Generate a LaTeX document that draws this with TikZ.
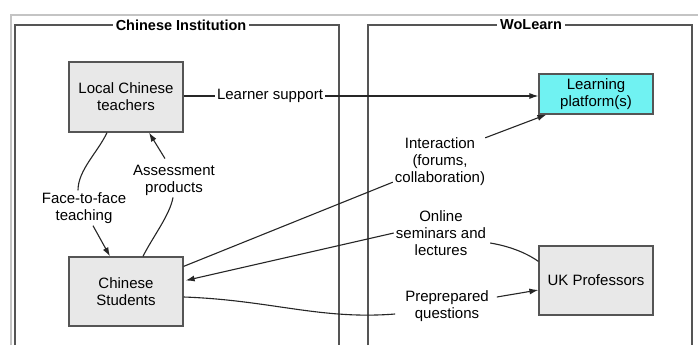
\documentclass[tikz,border=0pt]{standalone}
\usepackage{fontspec}
\setmainfont{Liberation Sans}
\usetikzlibrary{arrows.meta,calc}
\definecolor{cyanfill}{HTML}{70F2F2}
\definecolor{boxfill}{HTML}{E8E8E8}
\definecolor{framecol}{HTML}{555555}
\definecolor{outercol}{HTML}{C4C4C4}
\begin{document}
\begin{tikzpicture}[x=1pt,y=-1pt,
  txt/.style={font=\fontsize{15}{17}\selectfont},
  box/.style={txt,draw=framecol,fill=boxfill,line width=1.2pt,minimum width=114pt,minimum height=70pt,align=center,inner sep=0pt},
  lbl/.style={txt,align=center,inner sep=2pt},
  conn/.style={line width=1.1pt,black!85},
  arr/.style={conn,-{Latex[length=9pt,width=6pt]}},
  frame/.style={draw=framecol,line width=1.3pt},
  ttl/.style={fill=white,font=\fontsize{14.5}{17}\selectfont\bfseries,inner sep=3pt}]
\fill[white] (0,0) rectangle (698,345);
\useasboundingbox (0,0) rectangle (698,345);
% outer light frame
\draw[outercol,line width=1.6pt] (11,345) -- (11,15) -- (698,15);
% group frames
\draw[frame] (15,345) -- (15,25) -- (339,25) -- (339,345);
\draw[frame] (368,345) -- (368,25) -- (692,25) -- (692,345);
\draw[framecol,line width=2.6pt] (692,25) -- (692,345);
\node[ttl] (tci) at (181,25) {Chinese Institution};
\node[ttl] (twl) at (531,25) {WoLearn};
% boxes
\node[box] (lt) at (126,97) {Local Chinese\\teachers};
\node[box,minimum height=69pt] (cs) at (126,291.5) {Chinese\\Students};
\node[box,fill=cyanfill,minimum height=40pt] (lp) at (596,94) {Learning\\platform(s)};
\node[box,minimum height=69pt] (uk) at (596,280.5) {UK Professors};
% labels
\node[lbl] (ls) at (270,96) {Learner support};
\node[lbl] (ftf) at (84,208) {Face-to-face\\teaching};
\node[lbl] (asp) at (174,180) {Assessment\\products};
\node[lbl] (int) at (440,162) {Interaction\\(forums,\\collaboration)};
\node[lbl] (onl) at (441,233) {Online\\seminars and\\lectures};
\node[lbl] (ppq) at (447,306) {Preprepared\\questions};
% connectors
\draw[conn] (lt.east |- ls.west) -- (ls.west);
\draw[arr] (ls.east) -- (lp.west |- ls.east);
\draw[conn] ($(lt.south)+(-19,0)$) .. controls (98,152) and (78,170) .. ($(ftf.north)+(-6,0)$);
\draw[arr] ($(ftf.south)+(9,0)$) -- ($(cs.north)+(-16,0)$);
\draw[conn] ($(cs.north)+(17,0)$) .. controls (152,238) and (170,215) .. ($(asp.south)+(-1,0)$);
\draw[arr] ($(asp.north)+(-9,-4)$) -- ($(lt.south)+(23,0)$);
\draw[conn] ($(cs.north east)+(0,10)$) -- ($(int.south west)+(0,-6)$);
\draw[arr] ($(int.north east)+(-2,2)$) -- ($(lp.south west)+(8,0)$);
\draw[conn] ($(uk.north west)+(0,16)$) .. controls (525,252) and (508,246) .. ($(onl.east)+(2,10)$);
\draw[arr] (onl.west) -- ($(cs.east)+(2,-11)$);
\draw[conn] ($(cs.east)+(0,5.5)$) .. controls (270,300) and (320,320) .. ($(ppq.west)+(-8,8)$);
\draw[arr] ($(ppq.east)+(6,-9)$) -- ($(uk.west)+(0,9.5)$);
\end{tikzpicture}
\end{document}
